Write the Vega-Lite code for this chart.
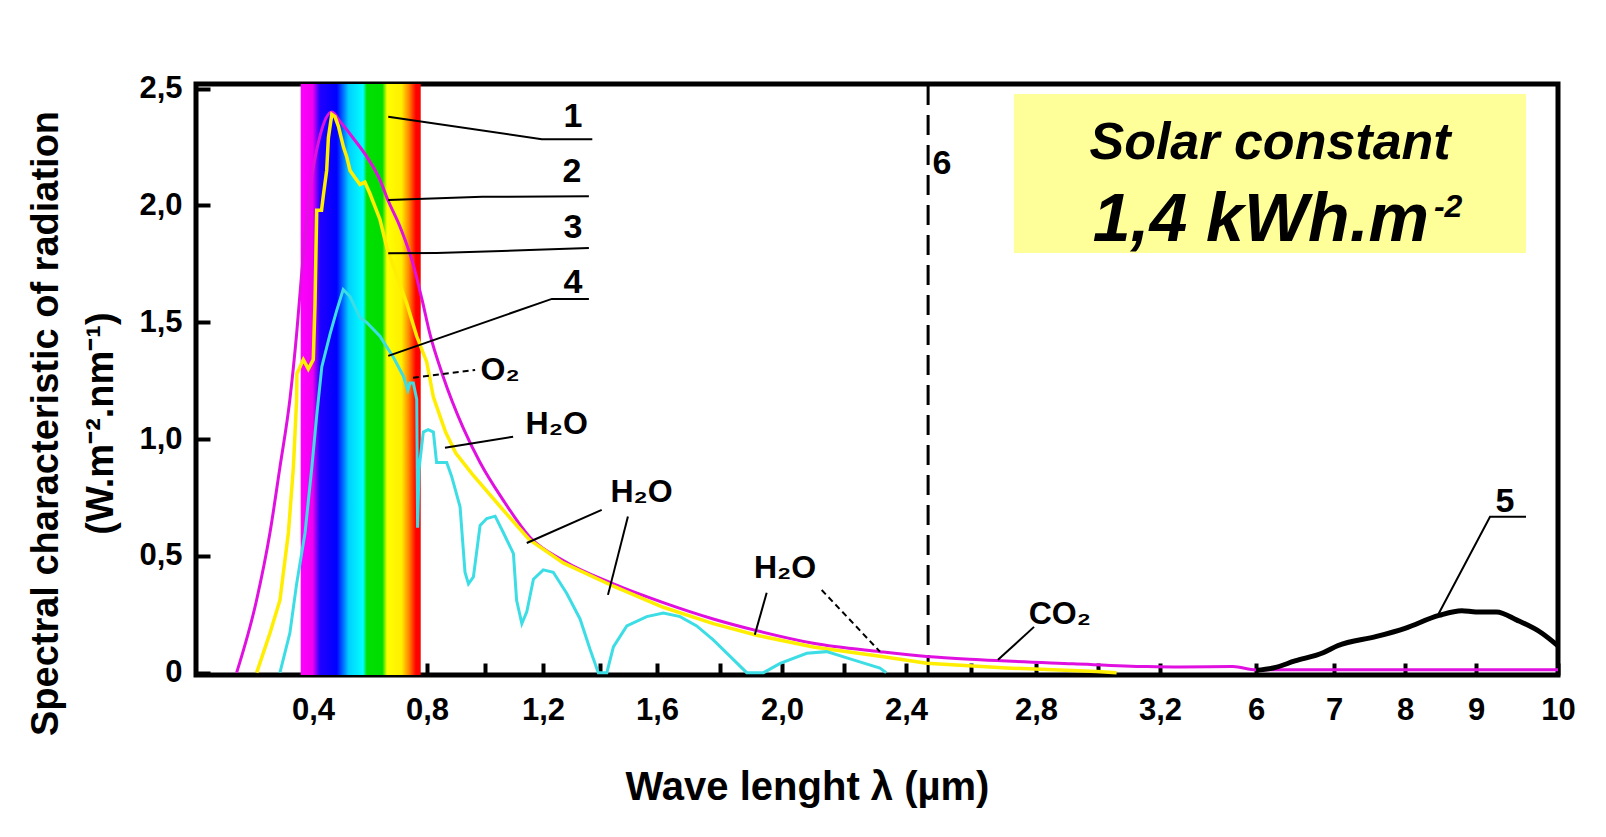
{
 "$schema": "https://vega.github.io/schema/vega-lite/v6.json",
 "width": 1362,
 "height": 591,
 "autosize": {"type": "none"},
 "padding": {"left": 196, "top": 84, "right": 48, "bottom": 162},
 "background": "white",
 "view": {"stroke": "#000", "strokeWidth": 5},
 "datasets": {
  "band": [{"w": 0.358, "w2": 0.778, "v": -0.01, "v2": 2.52}],
  "box": [{"w": 2.732, "w2": 9.61, "v": 1.797, "v2": 2.477}],
  "dash": [{"w": 2.468, "v": -0.01, "v2": 2.52}],
  "c2": [
   {"w": 0.139, "v": 0.0}, {"w": 0.207, "v": 0.31}, {"w": 0.253, "v": 0.60}, {"w": 0.287, "v": 0.88},
   {"w": 0.321, "v": 1.17}, {"w": 0.344, "v": 1.45}, {"w": 0.362, "v": 1.72}, {"w": 0.390, "v": 2.07},
   {"w": 0.425, "v": 2.30}, {"w": 0.466, "v": 2.40}, {"w": 0.495, "v": 2.36}, {"w": 0.540, "v": 2.29},
   {"w": 0.588, "v": 2.21}, {"w": 0.635, "v": 2.11}, {"w": 0.664, "v": 2.02}, {"w": 0.705, "v": 1.91},
   {"w": 0.751, "v": 1.75}, {"w": 0.782, "v": 1.60}, {"w": 0.810, "v": 1.45}, {"w": 0.855, "v": 1.27},
   {"w": 0.924, "v": 1.05}, {"w": 0.983, "v": 0.90}, {"w": 1.062, "v": 0.74}, {"w": 1.155, "v": 0.58},
   {"w": 1.271, "v": 0.48}, {"w": 1.447, "v": 0.38}, {"w": 1.620, "v": 0.30}, {"w": 1.780, "v": 0.23},
   {"w": 1.919, "v": 0.18}, {"w": 2.101, "v": 0.126}, {"w": 2.316, "v": 0.090}, {"w": 2.464, "v": 0.069},
   {"w": 2.628, "v": 0.055}, {"w": 2.919, "v": 0.038}, {"w": 3.157, "v": 0.026}, {"w": 3.78, "v": 0.024},
   {"w": 5.33, "v": 0.026}, {"w": 6.0, "v": 0.012}, {"w": 10.0, "v": 0.012}
  ],
  "c3": [
   {"w": 0.2075, "v": 0.0}, {"w": 0.253, "v": 0.17}, {"w": 0.287, "v": 0.31}, {"w": 0.316, "v": 0.60},
   {"w": 0.333, "v": 0.88}, {"w": 0.344, "v": 1.17}, {"w": 0.345, "v": 1.28}, {"w": 0.367, "v": 1.34},
   {"w": 0.384, "v": 1.30}, {"w": 0.401, "v": 1.34}, {"w": 0.407, "v": 1.58}, {"w": 0.413, "v": 1.98},
   {"w": 0.430, "v": 1.98}, {"w": 0.436, "v": 2.04}, {"w": 0.448, "v": 2.15}, {"w": 0.454, "v": 2.29},
   {"w": 0.466, "v": 2.39}, {"w": 0.477, "v": 2.38}, {"w": 0.489, "v": 2.34}, {"w": 0.507, "v": 2.25},
   {"w": 0.518, "v": 2.21}, {"w": 0.530, "v": 2.15}, {"w": 0.547, "v": 2.12}, {"w": 0.565, "v": 2.09},
   {"w": 0.582, "v": 2.10}, {"w": 0.600, "v": 2.05}, {"w": 0.635, "v": 1.94}, {"w": 0.659, "v": 1.82},
   {"w": 0.694, "v": 1.70}, {"w": 0.729, "v": 1.58}, {"w": 0.764, "v": 1.44}, {"w": 0.799, "v": 1.33},
   {"w": 0.822, "v": 1.18}, {"w": 0.864, "v": 1.03}, {"w": 0.899, "v": 0.94}, {"w": 0.956, "v": 0.85},
   {"w": 1.060, "v": 0.70}, {"w": 1.152, "v": 0.57}, {"w": 1.271, "v": 0.47}, {"w": 1.447, "v": 0.37},
   {"w": 1.620, "v": 0.28}, {"w": 1.780, "v": 0.21}, {"w": 1.919, "v": 0.16}, {"w": 2.101, "v": 0.11},
   {"w": 2.316, "v": 0.07}, {"w": 2.464, "v": 0.04}, {"w": 2.710, "v": 0.02}, {"w": 2.996, "v": 0.005},
   {"w": 3.06, "v": 0.0}
  ],
  "c4": [
   {"w": 0.287, "v": 0.0}, {"w": 0.321, "v": 0.17}, {"w": 0.344, "v": 0.38}, {"w": 0.373, "v": 0.60},
   {"w": 0.396, "v": 0.88}, {"w": 0.413, "v": 1.10}, {"w": 0.431, "v": 1.31}, {"w": 0.460, "v": 1.45},
   {"w": 0.483, "v": 1.55}, {"w": 0.506, "v": 1.64}, {"w": 0.530, "v": 1.61}, {"w": 0.565, "v": 1.52},
   {"w": 0.588, "v": 1.50}, {"w": 0.635, "v": 1.44}, {"w": 0.682, "v": 1.35}, {"w": 0.717, "v": 1.27},
   {"w": 0.733, "v": 1.21}, {"w": 0.740, "v": 1.24}, {"w": 0.752, "v": 1.24}, {"w": 0.764, "v": 1.17},
   {"w": 0.767, "v": 0.62}, {"w": 0.772, "v": 0.87}, {"w": 0.787, "v": 1.03}, {"w": 0.804, "v": 1.04},
   {"w": 0.822, "v": 1.03}, {"w": 0.833, "v": 0.90}, {"w": 0.868, "v": 0.90}, {"w": 0.885, "v": 0.84},
   {"w": 0.914, "v": 0.71}, {"w": 0.931, "v": 0.43}, {"w": 0.943, "v": 0.38}, {"w": 0.960, "v": 0.41},
   {"w": 0.983, "v": 0.63}, {"w": 1.006, "v": 0.66}, {"w": 1.035, "v": 0.67}, {"w": 1.063, "v": 0.60},
   {"w": 1.098, "v": 0.51}, {"w": 1.109, "v": 0.31}, {"w": 1.127, "v": 0.21}, {"w": 1.144, "v": 0.26},
   {"w": 1.167, "v": 0.40}, {"w": 1.201, "v": 0.44}, {"w": 1.236, "v": 0.43}, {"w": 1.283, "v": 0.34},
   {"w": 1.330, "v": 0.23}, {"w": 1.365, "v": 0.10}, {"w": 1.394, "v": 0.0}, {"w": 1.424, "v": 0.0},
   {"w": 1.447, "v": 0.11}, {"w": 1.494, "v": 0.20}, {"w": 1.564, "v": 0.24}, {"w": 1.620, "v": 0.255},
   {"w": 1.674, "v": 0.24}, {"w": 1.727, "v": 0.20}, {"w": 1.780, "v": 0.14}, {"w": 1.834, "v": 0.07},
   {"w": 1.887, "v": 0.0}, {"w": 1.941, "v": 0.0}, {"w": 1.994, "v": 0.04}, {"w": 2.080, "v": 0.083},
   {"w": 2.144, "v": 0.09}, {"w": 2.230, "v": 0.055}, {"w": 2.316, "v": 0.02}, {"w": 2.336, "v": 0.0}
  ],
  "c5": [
   {"w": 6.0, "v": 0.01}, {"w": 6.22, "v": 0.02}, {"w": 6.5, "v": 0.05}, {"w": 6.86, "v": 0.085},
   {"w": 7.05, "v": 0.115}, {"w": 7.6, "v": 0.155}, {"w": 8.0, "v": 0.19}, {"w": 8.48, "v": 0.245},
   {"w": 8.8, "v": 0.265}, {"w": 9.0, "v": 0.26}, {"w": 9.25, "v": 0.26}, {"w": 9.5, "v": 0.225},
   {"w": 9.8, "v": 0.17}, {"w": 10.0, "v": 0.115}
  ],
  "leaders": [
   {"id": "l1", "k": 0, "w": 0.664, "v": 2.380}, {"id": "l1", "k": 1, "w": 1.196, "v": 2.284}, {"id": "l1", "k": 2, "w": 1.373, "v": 2.284},
   {"id": "l2", "k": 0, "w": 0.664, "v": 2.023}, {"id": "l2", "k": 1, "w": 0.991, "v": 2.037}, {"id": "l2", "k": 2, "w": 1.361, "v": 2.040},
   {"id": "l3", "k": 0, "w": 0.664, "v": 1.795}, {"id": "l3", "k": 1, "w": 0.833, "v": 1.797}, {"id": "l3", "k": 2, "w": 1.178, "v": 1.810}, {"id": "l3", "k": 3, "w": 1.361, "v": 1.818},
   {"id": "l4", "k": 0, "w": 0.664, "v": 1.356}, {"id": "l4", "k": 1, "w": 1.231, "v": 1.600}, {"id": "l4", "k": 2, "w": 1.361, "v": 1.600},
   {"id": "h1", "k": 0, "w": 0.862, "v": 0.963}, {"id": "h1", "k": 1, "w": 1.097, "v": 1.010},
   {"id": "h2a", "k": 0, "w": 1.144, "v": 0.555}, {"id": "h2a", "k": 1, "w": 1.406, "v": 0.697},
   {"id": "h2b", "k": 0, "w": 1.498, "v": 0.668}, {"id": "h2b", "k": 1, "w": 1.428, "v": 0.333},
   {"id": "h3a", "k": 0, "w": 1.951, "v": 0.342}, {"id": "h3a", "k": 1, "w": 1.913, "v": 0.162},
   {"id": "co2", "k": 0, "w": 2.794, "v": 0.196}, {"id": "co2", "k": 1, "w": 2.683, "v": 0.055},
   {"id": "l5", "k": 0, "w": 8.468, "v": 0.249}, {"id": "l5", "k": 1, "w": 9.171, "v": 0.667}, {"id": "l5", "k": 2, "w": 9.61, "v": 0.667}
  ],
  "dashedLeaders": [
   {"id": "o2", "k": 0, "w": 0.751, "v": 1.262}, {"id": "o2", "k": 1, "w": 0.966, "v": 1.296},
   {"id": "h3b", "k": 0, "w": 2.128, "v": 0.354}, {"id": "h3b", "k": 1, "w": 2.316, "v": 0.090}
  ],
  "nums": [
   {"t": "1", "w": 1.305, "v": 2.379}, {"t": "2", "w": 1.302, "v": 2.143}, {"t": "3", "w": 1.305, "v": 1.903},
   {"t": "4", "w": 1.305, "v": 1.668}, {"t": "5", "w": 9.354, "v": 0.731}, {"t": "6", "w": 2.511, "v": 2.177}
  ],
  "mols": [
   {"t": "O₂", "w": 1.052, "v": 1.296}, {"t": "H₂O", "w": 1.248, "v": 1.065}, {"t": "H₂O", "w": 1.546, "v": 0.774},
   {"t": "H₂O", "w": 2.010, "v": 0.449}, {"t": "CO₂", "w": 2.877, "v": 0.252}
  ],
  "boxTitle": [{"t": "Solar constant", "w": 6.18, "v": 2.200}],
  "boxValue": [{"t": "1,4 kWh.m", "w": 8.338, "v": 1.849}],
  "boxSup": [{"t": "-2", "w": 8.408, "v": 1.95}]
 },
 "encoding": {
  "x": {
   "field": "w", "type": "quantitative",
   "scale": {
    "domain": [0, 0.4, 0.8, 1.2, 1.6, 2.0, 2.4, 2.8, 3.2, 6, 7, 8, 9, 10],
    "range": [0, 117, 231, 347, 461, 586, 710, 840, 964, 1060, 1138, 1209, 1280, 1362],
    "nice": false, "zero": false
   },
   "axis": {
    "values": [0.4, 0.6, 0.8, 1, 1.2, 1.4, 1.6, 1.8, 2, 2.2, 2.4, 2.6, 2.8, 3, 3.2, 6, 7, 8, 9, 10],
    "labelExpr": "datum.value > 5 ? format(datum.value, 'd') : (round(datum.value * 10) % 4 == 0 ? replace(format(datum.value, '.1f'), '.', ',') : '')",
    "domain": false, "grid": false,
    "tickSize": -12, "tickWidth": 4, "tickColor": "#000",
    "labelFont": "Liberation Sans, Arial, sans-serif", "labelFontWeight": "bold", "labelFontSize": 31, "labelColor": "#000",
    "labelPadding": 32, "labelFlush": false, "labelOverlap": false, "labelBound": false,
    "title": "Wave lenght λ (µm)",
    "titleFont": "Liberation Sans, Arial, sans-serif", "titleFontWeight": "bold", "titleFontSize": 40, "titleColor": "#000",
    "titleX": 611, "titleY": 124, "titleBaseline": "alphabetic", "titleAlign": "center"
   }
  },
  "y": {
   "field": "v", "type": "quantitative",
   "scale": {"domain": [-0.01, 2.52], "nice": false, "zero": false},
   "axis": {
    "values": [0, 0.5, 1, 1.5, 2, 2.5],
    "labelExpr": "datum.value == 0 ? '0' : replace(format(datum.value, '.1f'), '.', ',')",
    "domain": false, "grid": false,
    "tickSize": -14, "tickWidth": 4, "tickColor": "#000",
    "labelFont": "Liberation Sans, Arial, sans-serif", "labelFontWeight": "bold", "labelFontSize": 31, "labelColor": "#000",
    "labelPadding": 28, "labelFlush": false, "labelOverlap": false, "labelBound": false,
    "title": ["Spectral characteristic of radiation", "(W.m⁻².nm⁻¹)"],
    "titleFont": "Liberation Sans, Arial, sans-serif", "titleFontWeight": "bold", "titleFontSize": 38, "titleColor": "#000",
    "titleX": -139, "titleY": 339, "titleBaseline": "alphabetic", "titleAlign": "center", "titleAngle": -90,
    "titleLineHeight": 55
   }
  }
 },
 "layer": [
  {
   "data": {"name": "band"},
   "mark": {"type": "rect", "fill": {"gradient": "linear", "x1": 0, "y1": 0, "x2": 1, "y2": 0, "stops": [
    {"offset": 0, "color": "#ff00ff"}, {"offset": 0.10, "color": "#f000f0"}, {"offset": 0.16, "color": "#2000ff"},
    {"offset": 0.30, "color": "#0000ff"}, {"offset": 0.40, "color": "#00d0ff"}, {"offset": 0.52, "color": "#00ffff"},
    {"offset": 0.55, "color": "#00e000"}, {"offset": 0.68, "color": "#00dd00"}, {"offset": 0.72, "color": "#ffff00"},
    {"offset": 0.84, "color": "#ffee00"}, {"offset": 0.90, "color": "#ff8800"}, {"offset": 0.96, "color": "#ff0000"},
    {"offset": 1, "color": "#ff0000"}]}},
   "encoding": {"x2": {"field": "w2"}, "y2": {"field": "v2"}}
  },
  {
   "data": {"name": "box"},
   "mark": {"type": "rect", "fill": "#ffff99"},
   "encoding": {"x2": {"field": "w2"}, "y2": {"field": "v2"}}
  },
  {
   "data": {"name": "dash"},
   "mark": {"type": "rule", "color": "#000", "strokeWidth": 3, "strokeDash": [20, 10]},
   "encoding": {"y2": {"field": "v2"}}
  },
  {
   "data": {"name": "c2"},
   "mark": {"type": "line", "color": "#e010e0", "strokeWidth": 3, "interpolate": "monotone"},
   "encoding": {}
  },
  {
   "data": {"name": "c3"},
   "mark": {"type": "line", "color": "#ffee00", "strokeWidth": 3.5},
   "encoding": {}
  },
  {
   "data": {"name": "c4"},
   "mark": {"type": "line", "color": "#3ddde6", "strokeWidth": 3},
   "encoding": {}
  },
  {
   "data": {"name": "c5"},
   "mark": {"type": "line", "color": "#000", "strokeWidth": 5, "interpolate": "monotone"},
   "encoding": {}
  },
  {
   "data": {"name": "leaders"},
   "mark": {"type": "line", "color": "#000", "strokeWidth": 2},
   "encoding": {"detail": {"field": "id"}, "order": {"field": "k"}}
  },
  {
   "data": {"name": "dashedLeaders"},
   "mark": {"type": "line", "color": "#000", "strokeWidth": 2, "strokeDash": [6, 4]},
   "encoding": {"detail": {"field": "id"}, "order": {"field": "k"}}
  },
  {
   "data": {"name": "nums"},
   "mark": {"type": "text", "font": "Liberation Sans, Arial, sans-serif", "fontWeight": "bold", "fontSize": 34, "color": "#000", "align": "center", "baseline": "middle"},
   "encoding": {"text": {"field": "t"}}
  },
  {
   "data": {"name": "mols"},
   "mark": {"type": "text", "font": "Liberation Sans, Arial, sans-serif", "fontWeight": "bold", "fontSize": 32, "color": "#000", "align": "center", "baseline": "middle"},
   "encoding": {"text": {"field": "t"}}
  },
  {
   "data": {"name": "boxTitle"},
   "mark": {"type": "text", "font": "Liberation Sans, Arial, sans-serif", "fontWeight": "bold", "fontStyle": "italic", "fontSize": 52, "color": "#000", "align": "center", "baseline": "alphabetic"},
   "encoding": {"text": {"field": "t"}}
  },
  {
   "data": {"name": "boxValue"},
   "mark": {"type": "text", "font": "Liberation Sans, Arial, sans-serif", "fontWeight": "bold", "fontStyle": "italic", "fontSize": 68, "color": "#000", "align": "right", "baseline": "alphabetic"},
   "encoding": {"text": {"field": "t"}}
  },
  {
   "data": {"name": "boxSup"},
   "mark": {"type": "text", "font": "Liberation Sans, Arial, sans-serif", "fontWeight": "bold", "fontStyle": "italic", "fontSize": 32, "color": "#000", "align": "left", "baseline": "alphabetic"},
   "encoding": {"text": {"field": "t"}}
  }
 ]
}
